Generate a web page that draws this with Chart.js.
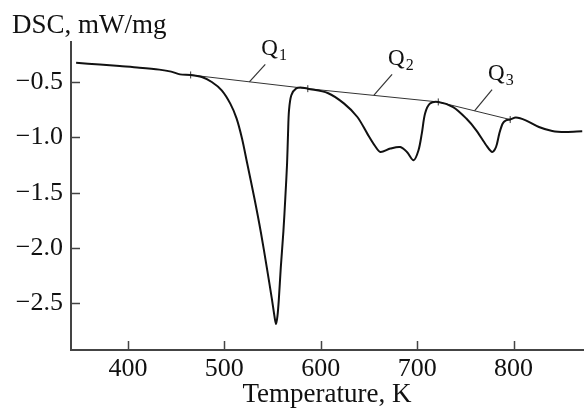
<!DOCTYPE html>
<html>
<head>
    <title>DSC curve</title>
    <script src="https://cdn.jsdelivr.net/npm/chart.js"></script>
    <style>
        body {
            margin: 0;
            background-color: #ffffff;
        }
        .chart-container {
            width: 588px;
            height: 411px;
        }
    </style>
</head>
<body>
    <div class="chart-container">
        <canvas id="dscChart"></canvas>
    </div>

    <script>
        // DSC curve
        const tempK = [346.3, 370.9, 391.5, 412.0, 432.6, 444.9, 454.1, 465.1, 476.7, 487.0,
            497.3, 506.2, 512.7, 518.3, 523.5, 531.2, 537.9, 544.0, 549.2, 552.0,
            553.6, 555.1, 556.5, 558.6, 561.3, 563.3, 565.1, 566.1, 567.1, 569.5,
            574.6, 581.5, 586.6, 607.2, 624.3, 638.0, 648.3, 656.5, 661.9, 672.2,
            682.5, 689.4, 696.3, 701.4, 704.8, 708.2, 713.3, 721.9, 737.3, 751.0,
            761.3, 771.6, 777.7, 781.8, 785.2, 788.7, 792.1, 796.5, 802.4, 812.6,
            826.3, 840.1, 853.7, 871.2];
        const dscVal = [-0.326, -0.342, -0.356, -0.370, -0.388, -0.406, -0.431, -0.436, -0.455, -0.500,
            -0.575, -0.695, -0.828, -1.008, -1.225, -1.550, -1.857, -2.172, -2.452, -2.615,
            -2.687, -2.615, -2.470, -2.172, -1.847, -1.541, -1.234, -0.963, -0.755, -0.620,
            -0.557, -0.551, -0.560, -0.599, -0.695, -0.816, -0.966, -1.080, -1.132, -1.101,
            -1.087, -1.132, -1.207, -1.116, -0.966, -0.785, -0.695, -0.680, -0.726, -0.830,
            -0.936, -1.071, -1.132, -1.087, -0.966, -0.875, -0.846, -0.839, -0.821, -0.846,
            -0.906, -0.942, -0.951, -0.945];

        // baseline under the peaks (integration limits)
        const baseTemps = [465.1, 586.6, 721.9, 796.5];
        const baseDsc = [-0.436, -0.560, -0.680, -0.839];

        // peak labels and their leader lines
        const peakNames = ['1', '2', '3'];
        const leaderTop = [[542.5, -0.340], [674.0, -0.430], [777.7, -0.569]];
        const leaderEnd = [[526.0, -0.498], [655.2, -0.619], [759.5, -0.760]];

        const xTicks = [400, 500, 600, 700, 800];
        const yTicks = [-2.5, -2.0, -1.5, -1.0, -0.5];

        const serif = "'Liberation Serif', 'DejaVu Serif', serif";
        const inkColor = '#111111';
        const axisColor = '#444444';

        const curve = tempK.map((t, i) => ({x: t, y: dscVal[i]}));
        const baseline = baseTemps.map((t, i) => ({x: t, y: baseDsc[i]}));

        const leaderSets = peakNames.map((n, i) => ({
            label: 'Q' + n,
            data: [{x: leaderTop[i][0], y: leaderTop[i][1]}, {x: leaderEnd[i][0], y: leaderEnd[i][1]}],
            showLine: true,
            borderColor: '#333333',
            borderWidth: 1.2,
            pointRadius: 0
        }));

        // ticks point into the plot, so draw them here
        const inwardTicks = {
            id: 'inwardTicks',
            afterDatasetsDraw(chart) {
                const ctx = chart.ctx;
                const xs = chart.scales.x, ys = chart.scales.y;
                const area = chart.chartArea;
                ctx.save();
                ctx.strokeStyle = axisColor;
                ctx.lineWidth = 1.5;
                ctx.beginPath();
                xTicks.forEach(v => {
                    const px = Math.round(xs.getPixelForValue(v)) + 0.5;
                    ctx.moveTo(px, area.bottom);
                    ctx.lineTo(px, area.bottom - 9);
                });
                yTicks.forEach(v => {
                    const py = Math.round(ys.getPixelForValue(v)) + 0.5;
                    ctx.moveTo(area.left, py);
                    ctx.lineTo(area.left + 9, py);
                });
                ctx.stroke();
                ctx.restore();
            }
        };

        // Q labels with subscripts at the top of each leader
        const peakLabels = {
            id: 'peakLabels',
            afterDatasetsDraw(chart) {
                const ctx = chart.ctx;
                const xs = chart.scales.x, ys = chart.scales.y;
                ctx.save();
                ctx.fillStyle = inkColor;
                ctx.textAlign = 'left';
                ctx.textBaseline = 'alphabetic';
                peakNames.forEach((n, i) => {
                    const px = xs.getPixelForValue(leaderTop[i][0]) - 4;
                    const py = ys.getPixelForValue(leaderTop[i][1]) - 9.5;
                    ctx.font = '23px ' + serif;
                    ctx.fillText('Q', px, py);
                    const w = ctx.measureText('Q').width;
                    ctx.font = '16px ' + serif;
                    ctx.fillText(n, px + w + 1, py + 5);
                });
                ctx.restore();
            }
        };

        new Chart(document.getElementById('dscChart').getContext('2d'), {
            type: 'scatter',
            data: {
                datasets: [
                    {
                        label: 'DSC',
                        data: curve,
                        showLine: true,
                        borderColor: '#111111',
                        borderWidth: 2,
                        pointRadius: 0,
                        tension: 0.3
                    },
                    {
                        label: 'baseline',
                        data: baseline,
                        showLine: true,
                        borderColor: '#333333',
                        borderWidth: 1,
                        pointStyle: 'line',
                        rotation: 90,
                        pointRadius: 3.5,
                        pointBorderWidth: 1,
                        pointBorderColor: '#333333'
                    },
                    ...leaderSets
                ]
            },
            options: {
                responsive: true,
                maintainAspectRatio: false,
                animation: false,
                layout: {
                    padding: {left: 12, right: 0, top: 0, bottom: 0}
                },
                plugins: {
                    legend: {display: false},
                    tooltip: {enabled: false},
                    title: {
                        display: true,
                        text: 'DSC, mW/mg',
                        align: 'start',
                        color: inkColor,
                        font: {family: serif, size: 27, weight: 'normal', lineHeight: 1.2},
                        padding: {top: 10, bottom: 0}
                    }
                },
                scales: {
                    x: {
                        type: 'linear',
                        min: 341,
                        max: 872,
                        afterBuildTicks: scale => {
                            scale.ticks = xTicks.map(v => ({value: v}));
                        },
                        afterFit: scale => {
                            scale.height = 61;
                        },
                        grid: {display: false, drawTicks: false},
                        border: {display: true, color: axisColor, width: 2},
                        ticks: {
                            color: inkColor,
                            padding: 4,
                            font: {family: serif, size: 26, lineHeight: 1.2},
                            callback: v => String(v)
                        },
                        title: {
                            display: true,
                            text: 'Temperature, K',
                            color: inkColor,
                            font: {family: serif, size: 27, lineHeight: 1.2},
                            padding: {top: 0, bottom: 0}
                        }
                    },
                    y: {
                        type: 'linear',
                        min: -2.921,
                        max: -0.142,
                        afterBuildTicks: scale => {
                            scale.ticks = yTicks.map(v => ({value: v}));
                        },
                        afterFit: scale => {
                            scale.width = 59;
                        },
                        grid: {display: false, drawTicks: false},
                        border: {display: true, color: axisColor, width: 2},
                        ticks: {
                            color: inkColor,
                            padding: 8,
                            font: {family: serif, size: 26, lineHeight: 1.2},
                            callback: v => (v < 0 ? '\u2212' : '') + Math.abs(v).toFixed(1)
                        }
                    }
                }
            },
            plugins: [inwardTicks, peakLabels]
        });
    </script>
</body>
</html>
